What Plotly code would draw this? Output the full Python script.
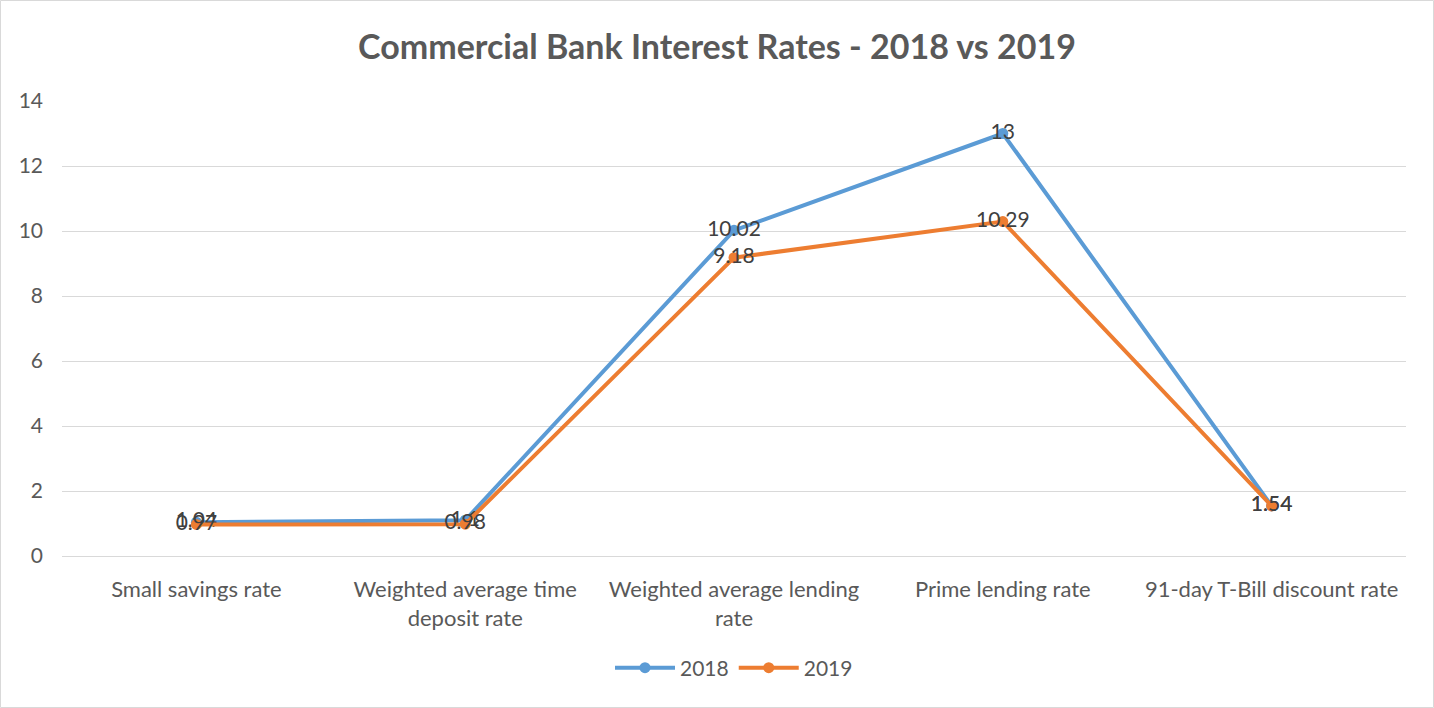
import plotly.graph_objects as go

categories = [
    "Small savings rate",
    "Weighted average time<br>deposit rate",
    "Weighted average lending<br>rate",
    "Prime lending rate",
    "91-day T-Bill discount rate",
]
rates_2018 = [1.04, 1.1, 10.02, 13, 1.54]
rates_2019 = [0.97, 0.98, 9.18, 10.29, 1.54]
y_ticks = [0, 2, 4, 6, 8, 10, 12, 14]

W, H = 1434, 708
ML, MR, MT, MB = 62, 28, 101, 152
PW, PH = W - ML - MR, H - MT - MB

FONT = "Lato"
xs = list(range(len(categories)))

fig = go.Figure()
for name, vals, color in [("2018", rates_2018, "#5B9BD5"), ("2019", rates_2019, "#ED7D31")]:
    fig.add_trace(go.Scatter(
        x=xs, y=vals, name=name, mode="lines+markers+text",
        line=dict(color=color, width=4),
        marker=dict(color=color, size=11),
        text=[f"{v:g}" for v in vals],
        textposition="middle center",
        textfont=dict(family=FONT, size=21, color="#404040"),
    ))

# outer chart border
fig.add_shape(
    type="rect", xref="paper", yref="paper",
    x0=(0.5 - ML) / PW, x1=(W - 0.5 - ML) / PW,
    y0=-(MB - 0.5) / PH, y1=1 + (MT - 0.5) / PH,
    line=dict(color="#D9D9D9", width=1), layer="below",
)

fig.update_layout(
    width=W, height=H,
    margin=dict(l=ML, r=MR, t=MT, b=MB),
    paper_bgcolor="white", plot_bgcolor="white",
    title=dict(
        text="<b>Commercial Bank Interest Rates - 2018 vs 2019</b>",
        x=0.5, xanchor="center", y=1 - 47 / H, yanchor="middle",
        yref="container",
        font=dict(family=FONT, size=34, color="#595959"),
    ),
    legend=dict(
        orientation="h", x=0.5, xanchor="center", y=-(668 - 556) / PH, yanchor="middle",
        font=dict(family=FONT, size=21, color="#595959"),
        itemwidth=60,
    ),
    xaxis=dict(
        range=[-0.5, len(categories) - 0.5],
        tickmode="array", tickvals=xs, ticktext=categories,
        showgrid=False, zeroline=False, showline=False,
        ticks="", ticklabelstandoff=18,
        tickfont=dict(family=FONT, size=22, color="#595959"),
    ),
    yaxis=dict(
        range=[0, 14], tickmode="array", tickvals=y_ticks,
        showgrid=True, gridcolor="#D9D9D9", gridwidth=1,
        zeroline=True, zerolinecolor="#D9D9D9", zerolinewidth=1,
        showline=False, ticks="", ticklabelstandoff=18,
        tickfont=dict(family=FONT, size=21, color="#595959"),
    ),
)

fig.write_html("out.html")
